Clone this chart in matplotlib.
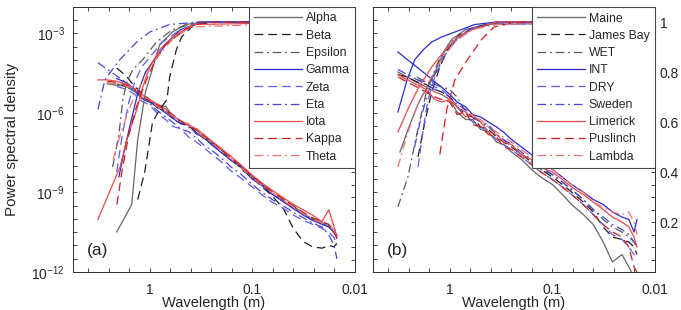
import numpy as np
import matplotlib
matplotlib.use('Agg')
import matplotlib.pyplot as plt
from matplotlib.ticker import FixedLocator, NullFormatter, MultipleLocator

plt.rcParams['font.family'] = ['Liberation Sans', 'DejaVu Sans']
plt.rcParams['mathtext.fontset'] = 'custom'
plt.rcParams['mathtext.rm'] = 'Liberation Sans'
plt.rcParams['mathtext.it'] = 'Liberation Sans:italic'

nan = np.nan

# wavelength grid (m) used by the spectra
WL = [3.2, 2.6, 2.1, 1.7, 1.4, 1.2, 1.0, 0.85, 0.7, 0.6, 0.5, 0.42, 0.35, 0.3, 0.25,
      0.2, 0.16, 0.13, 0.1, 0.08, 0.065, 0.05, 0.04, 0.032, 0.026, 0.021, 0.018, 0.016, 0.015]

# ---- panel (a): log10 of power spectral density ----
names_a = ['Alpha', 'Beta', 'Epsilon', 'Gamma', 'Zeta', 'Eta', 'Iota', 'Kappa', 'Theta']

psd_alpha = [nan, -4.9, -4.95, -5.0, -5.2, -5.4, -5.55, -5.7, -5.75, -6.1, -6.3, -6.45, -6.75, -6.85, -7.1,
             -7.4, -7.8, -8.0, -8.4, -8.7, -9.05, -9.3, -9.6, -9.8, -10.0, -10.15, -10.3, -10.5, -10.6]
psd_beta = [nan, nan, -4.3, -4.6, -5.0, -5.25, -5.5, -5.8, -5.9, -6.15, -6.4, -6.45, -6.75, -6.95, -7.1,
            -7.5, -7.7, -8.1, -8.45, -8.8, -9.1, -9.6, -10.35, -10.85, -11.05, -11.1, -11.0, -11.05, -10.9]
psd_epsilon = [nan, nan, -4.9, -5.0, -5.15, -5.3, -5.5, -5.8, -5.95, -6.05, -6.35, -6.55, -6.6, -6.95, -7.15,
               -7.4, -7.75, -8.0, -8.45, -8.7, -9.0, -9.25, -9.5, -9.8, -10.0, -10.1, -10.25, -10.35, -10.5]
psd_gamma = [nan, nan, -4.7, -4.85, -5.1, -5.45, -5.6, -5.75, -6.0, -6.2, -6.4, -6.45, -6.8, -6.9, -7.2,
             -7.5, -7.8, -8.05, -8.5, -8.75, -9.05, -9.35, -9.6, -9.85, -10.05, -10.2, -10.3, -10.5, -10.65]
psd_zeta = [nan, nan, -5.0, -5.1, -5.3, -5.55, -5.7, -6.0, -6.25, -6.5, -6.6, -6.9, -7.1, -7.3, -7.55,
            -7.85, -8.2, -8.45, -8.8, -9.1, -9.35, -9.6, -9.85, -10.05, -10.2, -10.35, -10.5, -10.7, -11.0]
psd_eta = [-4.1, -4.35, -4.6, -4.85, -5.2, -5.4, -5.65, -5.9, -6.15, -6.35, -6.6, -6.7, -6.95, -7.2, -7.4,
           -7.7, -8.05, -8.3, -8.7, -9.0, -9.25, -9.5, -9.75, -9.95, -10.15, -10.3, -10.6, -11.0, -11.5]
psd_iota = [-4.75, -4.75, -4.8, -4.9, -5.1, -5.3, -5.5, -5.65, -5.85, -6.1, -6.3, -6.45, -6.6, -6.8, -7.05,
            -7.35, -7.65, -7.95, -8.35, -8.65, -8.9, -9.2, -9.45, -9.65, -9.85, -10.1, -9.65, -10.3, -10.7]
psd_kappa = [nan, -4.8, -4.85, -4.95, -5.1, -5.35, -5.55, -5.7, -5.9, -6.05, -6.3, -6.5, -6.65, -6.85, -7.1,
             -7.4, -7.7, -8.0, -8.4, -8.7, -8.95, -9.25, -9.5, -9.75, -9.95, -10.1, -10.2, -10.5, -10.75]
psd_theta = [nan, -4.85, -4.9, -5.0, -5.05, -5.4, -5.5, -5.75, -5.95, -6.1, -6.35, -6.4, -6.7, -6.9, -7.1,
             -7.45, -7.75, -8.05, -8.45, -8.75, -9.0, -9.3, -9.55, -9.8, -10.0, -10.15, -10.25, -10.4, -10.6]

# cumulative curves, panel (a): (wavelength, fraction)
cw_alpha = [2.1, 1.5, 1.31, 1.1, 0.87, 0.8, 0.6, 0.45, 0.3, 0.015]
cv_alpha = [0.16, 0.27, 0.53, 0.72, 0.86, 0.91, 0.96, 0.99, 1.0, 1.0]
cw_beta = [1.31, 1.12, 0.94, 0.8, 0.68, 0.64, 0.55, 0.49, 0.37, 0.21, 0.015]
cv_beta = [0.29, 0.40, 0.60, 0.65, 0.69, 0.78, 0.89, 0.94, 0.99, 1.0, 1.0]
cw_epsilon = [2.3, 2.0, 1.83, 1.67, 1.46, 1.17, 0.86, 0.6, 0.33, 0.015]
cv_epsilon = [0.42, 0.55, 0.69, 0.76, 0.81, 0.85, 0.92, 0.97, 1.0, 1.0]
cw_gamma = [2.0, 1.7, 1.45, 1.3, 1.1, 0.9, 0.7, 0.5, 0.3, 0.015]
cv_gamma = [0.38, 0.52, 0.64, 0.72, 0.8, 0.85, 0.91, 0.97, 1.0, 1.0]
cw_zeta = [2.1, 1.85, 1.6, 1.4, 1.2, 1.0, 0.75, 0.5, 0.3, 0.015]
cv_zeta = [0.40, 0.55, 0.68, 0.76, 0.82, 0.86, 0.92, 0.97, 1.0, 1.0]
cw_eta = [3.2, 2.73, 1.95, 1.34, 1.0, 0.64, 0.33, 0.015]
cv_eta = [0.65, 0.77, 0.85, 0.92, 0.96, 0.99, 1.0, 1.0]
cw_iota = [3.2, 1.95, 1.67, 1.34, 1.17, 1.0, 0.8, 0.6, 0.38, 0.015]
cv_iota = [0.21, 0.42, 0.53, 0.65, 0.74, 0.82, 0.89, 0.94, 0.99, 1.0]
cw_kappa = [2.09, 1.87, 1.6, 1.35, 1.1, 0.9, 0.7, 0.45, 0.3, 0.015]
cv_kappa = [0.27, 0.40, 0.55, 0.66, 0.76, 0.84, 0.91, 0.97, 1.0, 1.0]
cw_theta = [2.28, 1.9, 1.6, 1.3, 1.05, 0.85, 0.6, 0.4, 0.015]
cv_theta = [0.45, 0.56, 0.65, 0.73, 0.8, 0.86, 0.93, 0.98, 1.0]

# ---- panel (b): normalised spectra (right axis) ----
names_b = ['Maine', 'James Bay', 'WET', 'INT', 'DRY', 'Sweden', 'Limerick', 'Puslinch', 'Lambda']

nb_maine = [0.80, 0.78, 0.76, 0.74, 0.72, 0.71, 0.69, 0.64, 0.61, 0.61, 0.57, 0.56, 0.52, 0.51, 0.48,
            0.45, 0.41, 0.38, 0.35, 0.31, 0.27, 0.23, 0.19, 0.12, 0.04, 0.07, 0.02, -0.02, -0.05]
nb_jamesbay = [0.79, 0.78, 0.76, 0.75, 0.73, 0.72, 0.70, 0.66, 0.63, 0.62, 0.58, 0.57, 0.54, 0.52, 0.50,
               0.47, 0.44, 0.41, 0.38, 0.35, 0.32, 0.28, 0.24, 0.18, 0.14, 0.13, 0.12, 0.10, 0.07]
nb_wet = [nan, nan, 0.78, 0.76, 0.75, 0.74, 0.73, 0.70, 0.64, 0.62, 0.60, 0.58, 0.55, 0.53, 0.50,
          0.47, 0.44, 0.41, 0.39, 0.36, 0.33, 0.29, 0.25, 0.21, 0.18, 0.16, 0.14, 0.12, 0.10]
nb_int = [0.88, 0.85, 0.82, 0.79, 0.76, 0.74, 0.71, 0.68, 0.66, 0.63, 0.62, 0.60, 0.58, 0.56, 0.53,
          0.50, 0.47, 0.44, 0.41, 0.38, 0.35, 0.32, 0.29, 0.27, 0.24, 0.22, 0.21, 0.16, 0.21]
nb_dry = [nan, nan, 0.77, 0.76, 0.74, 0.73, 0.70, 0.66, 0.64, 0.60, 0.58, 0.56, 0.53, 0.51, 0.49,
          0.46, 0.43, 0.40, 0.37, 0.34, 0.31, 0.27, 0.23, 0.19, 0.15, 0.13, 0.10, 0.07, 0.05]
nb_sweden = [0.81, 0.79, 0.77, 0.75, 0.73, 0.72, 0.70, 0.67, 0.65, 0.62, 0.60, 0.59, 0.55, 0.53, 0.51,
             0.48, 0.45, 0.42, 0.39, 0.36, 0.33, 0.29, 0.25, 0.22, 0.19, 0.17, 0.15, 0.12, 0.10]
nb_limerick = [0.79, 0.77, 0.75, 0.73, 0.69, 0.68, 0.69, 0.66, 0.62, 0.63, 0.60, 0.56, 0.55, 0.52, 0.51,
               0.47, 0.45, 0.42, 0.40, 0.37, 0.34, 0.31, 0.28, 0.25, 0.22, 0.20, 0.18, 0.14, 0.10]
nb_puslinch = [0.78, 0.76, 0.74, 0.72, 0.70, 0.69, 0.68, 0.63, 0.64, 0.59, 0.58, 0.55, 0.54, 0.50, 0.49,
               0.46, 0.43, 0.40, 0.37, 0.34, 0.31, 0.27, 0.23, 0.19, 0.16, 0.14, 0.10, 0.02, 0.0]
nb_lambda = [0.78, 0.77, 0.75, 0.74, 0.72, 0.71, 0.69, 0.67, 0.64, 0.62, 0.61, 0.58, 0.56, 0.54, 0.52,
             0.49, 0.46, 0.44, 0.41, 0.38, 0.35, 0.32, 0.28, 0.26, 0.24, 0.23, 0.24, 0.20, 0.15]

# cumulative curves, panel (b)
cw_maine = [3.06, 2.5, 2.0, 1.5, 1.2, 0.96, 0.7, 0.45, 0.25, 0.015]
cv_maine = [0.48, 0.58, 0.68, 0.77, 0.86, 0.93, 0.97, 0.99, 1.0, 1.0]
cw_jamesbay = [2.04, 1.75, 1.5, 1.25, 1.05, 0.8, 0.55, 0.35, 0.015]
cv_jamesbay = [0.46, 0.60, 0.72, 0.82, 0.89, 0.95, 0.98, 1.0, 1.0]
cw_wet = [3.2, 2.56, 2.1, 1.67, 1.3, 1.0, 0.7, 0.45, 0.25, 0.015]
cv_wet = [0.26, 0.38, 0.55, 0.73, 0.84, 0.92, 0.96, 0.99, 1.0, 1.0]
cw_int = [3.2, 2.6, 2.19, 1.8, 1.5, 1.2, 0.89, 0.57, 0.35, 0.015]
cv_int = [0.64, 0.77, 0.85, 0.89, 0.92, 0.94, 0.96, 0.99, 1.0, 1.0]
cw_dry = [2.04, 1.8, 1.63, 1.4, 1.15, 0.9, 0.65, 0.4, 0.015]
cv_dry = [0.42, 0.58, 0.69, 0.78, 0.86, 0.92, 0.97, 0.99, 1.0]
cw_sweden = [2.2, 1.9, 1.65, 1.4, 1.15, 0.9, 0.65, 0.4, 0.015]
cv_sweden = [0.50, 0.62, 0.71, 0.79, 0.86, 0.92, 0.97, 0.99, 1.0]
cw_limerick = [3.2, 2.5, 2.0, 1.5, 1.1, 0.84, 0.6, 0.35, 0.015]
cv_limerick = [0.56, 0.66, 0.74, 0.82, 0.89, 0.94, 0.97, 1.0, 1.0]
cw_puslinch = [1.25, 1.07, 0.89, 0.67, 0.49, 0.37, 0.25, 0.17, 0.015]
cv_puslinch = [0.47, 0.65, 0.77, 0.85, 0.93, 0.98, 0.995, 1.0, 1.0]
cw_lambda = [3.2, 2.6, 2.1, 1.6, 1.2, 0.9, 0.6, 0.35, 0.015]
cv_lambda = [0.42, 0.55, 0.66, 0.76, 0.85, 0.92, 0.97, 0.99, 1.0]

# line styles (colour, dash pattern), same order in both panels
DASH = (0, (7, 4))
DASHDOT = (0, (7, 3, 1.5, 3))
STYLES = [('#666666', '-'), ('#1e1e1e', DASH), ('#5a5a5a', DASHDOT),
          ('#2a2ad2', '-'), ('#5c5cee', DASH), ('#4646dc', DASHDOT),
          ('#e84a4a', '-'), ('#cc1f1f', DASH), ('#f07272', DASHDOT)]

psd_a = [psd_alpha, psd_beta, psd_epsilon, psd_gamma, psd_zeta, psd_eta, psd_iota, psd_kappa, psd_theta]
cum_a = [(cw_alpha, cv_alpha), (cw_beta, cv_beta), (cw_epsilon, cv_epsilon), (cw_gamma, cv_gamma),
         (cw_zeta, cv_zeta), (cw_eta, cv_eta), (cw_iota, cv_iota), (cw_kappa, cv_kappa), (cw_theta, cv_theta)]
psd_b = [nb_maine, nb_jamesbay, nb_wet, nb_int, nb_dry, nb_sweden, nb_limerick, nb_puslinch, nb_lambda]
cum_b = [(cw_maine, cv_maine), (cw_jamesbay, cv_jamesbay), (cw_wet, cv_wet), (cw_int, cv_int),
         (cw_dry, cv_dry), (cw_sweden, cv_sweden), (cw_limerick, cv_limerick),
         (cw_puslinch, cv_puslinch), (cw_lambda, cv_lambda)]

TXT = '#262626'
LW = 0.9

fig = plt.figure(figsize=(6.81, 3.10), dpi=100)
ax_a = fig.add_axes([73 / 681, 1 - 272 / 310, 282 / 681, 265 / 310])
ax_b = fig.add_axes([373 / 681, 1 - 272 / 310, 282 / 681, 265 / 310])


def style_axes(ax, show_ylabels):
    ax.set_xscale('log')
    ax.set_yscale('log')
    ax.set_xlim(5.6, 0.01)
    ax.set_ylim(1e-12, 1e-2)
    ax.set_xticks([1, 0.1, 0.01])
    ax.set_xticklabels(['1', '0.1', '0.01'])
    ax.xaxis.set_minor_locator(FixedLocator(10 ** np.arange(-2, 0.75, 0.2)))
    ax.xaxis.set_minor_formatter(NullFormatter())
    ax.set_yticks([1e-12, 1e-9, 1e-6, 1e-3])
    ax.yaxis.set_minor_locator(FixedLocator(10 ** np.arange(-12, -1.9, 0.5)))
    ax.yaxis.set_minor_formatter(NullFormatter())
    if show_ylabels:
        ax.set_yticklabels([r'$\mathregular{10^{-12}}$', r'$\mathregular{10^{-9}}$',
                            r'$\mathregular{10^{-6}}$', r'$\mathregular{10^{-3}}$'])
    else:
        ax.set_yticklabels([])
    ax.tick_params(which='both', direction='in', top=True, right=False, length=3, width=0.6,
                   labelsize=10, colors=TXT)
    ax.tick_params(axis='x', pad=8)
    ax.tick_params(axis='y', pad=6)
    for s in ax.spines.values():
        s.set_color('#333333')
        s.set_linewidth(0.7)
    ax.set_xlabel('Wavelength (m)', fontsize=10.5, color=TXT, labelpad=-1)

    tw = ax.twinx()
    tw.set_ylim(0, 1.06)
    tw.set_yticks([0.2, 0.4, 0.6, 0.8, 1.0])
    tw.set_yticklabels(['0.2', '0.4', '0.6', '0.8', '1'])
    tw.yaxis.set_minor_locator(MultipleLocator(0.05))
    tw.tick_params(which='both', direction='in', length=3, width=0.6, labelsize=10,
                   colors=TXT, labelright=not show_ylabels, pad=3.5)
    for s in tw.spines.values():
        s.set_color('#333333')
        s.set_linewidth(0.7)
    return tw


tw_a = style_axes(ax_a, True)
tw_b = style_axes(ax_b, False)
ax_a.set_ylabel('Power spectral density', fontsize=11, color=TXT, labelpad=9)

handles_a = []
for vals, (cw, cv), (col, ls) in zip(psd_a, cum_a, STYLES):
    h, = ax_a.plot(WL, 10 ** np.array(vals), color=col, ls=ls, lw=LW)
    tw_a.plot(cw, cv, color=col, ls=ls, lw=LW)
    handles_a.append(h)

handles_b = []
for vals, (cw, cv), (col, ls) in zip(psd_b, cum_b, STYLES):
    h, = tw_b.plot(WL, vals, color=col, ls=ls, lw=LW)
    tw_b.plot(cw, cv, color=col, ls=ls, lw=LW)
    handles_b.append(h)

for tw, hs, names in [(tw_a, handles_a, names_a), (tw_b, handles_b, names_b)]:
    leg = tw.legend(hs, names, loc='upper right', borderaxespad=0, fontsize=8.8,
                    handlelength=3.9, handletextpad=0.3, labelspacing=0.43, borderpad=0.45,
                    fancybox=False, framealpha=1, edgecolor='#444444')
    leg.get_frame().set_linewidth(0.8)
    for t in leg.get_texts():
        t.set_color(TXT)

ax_a.text(0.05, 0.065, '(a)', transform=ax_a.transAxes, fontsize=12.5, color=TXT)
ax_b.text(0.05, 0.065, '(b)', transform=ax_b.transAxes, fontsize=12.5, color=TXT)

fig.savefig('out.png', dpi=100)
